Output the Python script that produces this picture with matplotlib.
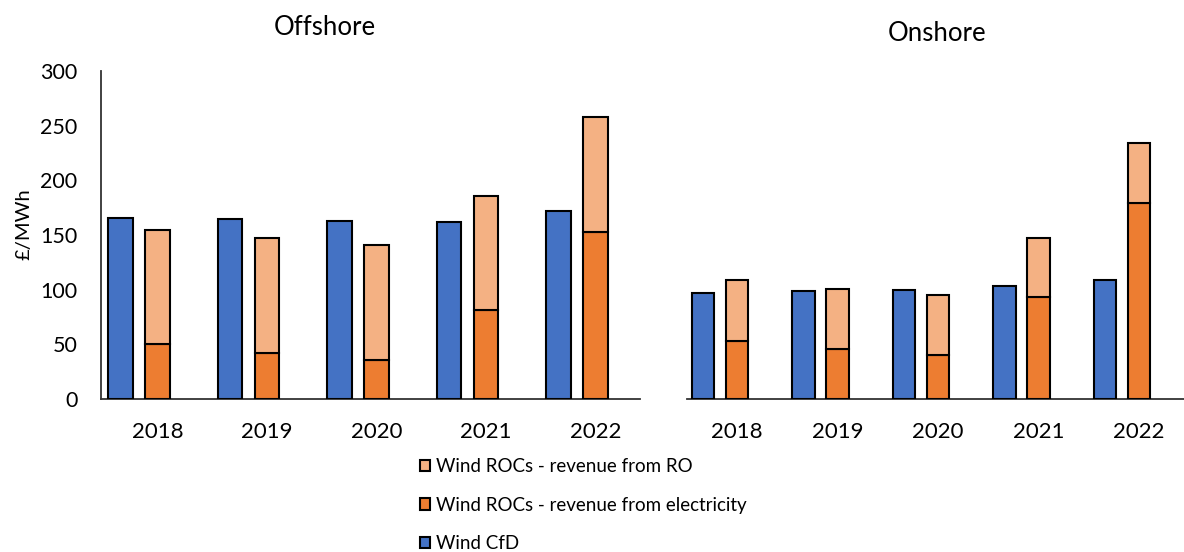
import matplotlib
matplotlib.use('Agg')
import matplotlib.pyplot as plt
import numpy as np

plt.rcParams['font.family'] = ['Lato', 'DejaVu Sans']

years = ['2018', '2019', '2020', '2021', '2022']
off_cfd = [166, 165, 163, 161.5, 172]
off_roc_elec = [50, 42, 36, 81, 153]
off_roc_ro = [105, 105, 105, 104.5, 105]
on_cfd = [97, 99, 100, 103, 108.5]
on_roc_elec = [53.5, 46, 40, 93, 179]
on_roc_ro = [55.5, 54.5, 55, 54.5, 55.5]

C_CFD = '#4472C4'; C_ELEC = '#ED7D31'; C_RO = '#F4B183'
W, H = 1184, 552

fig = plt.figure(figsize=(W/100, H/100), dpi=100)
ax1 = fig.add_axes([101/W, 1-399/H, 539/W, 328/H])
ax2 = fig.add_axes([687/W, 1-399/H, 497/W, 328/H])

def draw(ax, cfd, elec, ro, xlim):
    x = np.arange(len(years)); bw = 0.22; off = 0.338
    kw = dict(width=bw, edgecolor='black', linewidth=1.5, zorder=3)
    h_cfd = ax.bar(x - off, cfd, color=C_CFD, **kw)
    h_el = ax.bar(x, elec, color=C_ELEC, **kw)
    h_ro = ax.bar(x, ro, bottom=elec, color=C_RO, **kw)
    ax.set_xlim(*xlim); ax.set_ylim(0, 300)
    ax.set_xticks(x); ax.set_xticklabels(years)
    ax.tick_params(axis='x', length=0, pad=16.5, labelsize=16)
    for s in ['top', 'right']: ax.spines[s].set_visible(False)
    ax.spines['bottom'].set_color('#333333'); ax.spines['bottom'].set_linewidth(1.3)
    return h_cfd, h_el, h_ro

draw(ax1, off_cfd, off_roc_elec, off_roc_ro, (-0.516, 4.406))
h_cfd, h_el, h_ro = draw(ax2, on_cfd, on_roc_elec, on_roc_ro, (-0.4975, 4.448))

ax1.set_yticks([0, 50, 100, 150, 200, 250, 300])
ax1.tick_params(axis='y', length=0, pad=17, labelsize=15.5)
ax1.spines['left'].set_color('#333333'); ax1.spines['left'].set_linewidth(1.3)
ax2.spines['left'].set_visible(False)
ax2.set_yticks([])

fig.text(24/W, 1-224/H, '£/MWh', rotation=90, ha='center', va='center', fontsize=14.5)
fig.text(325/W, 1-35/H, 'Offshore', ha='center', va='baseline', fontsize=18.5)
fig.text(937.5/W, 1-41.5/H, 'Onshore', ha='center', va='baseline', fontsize=18.5)

fig.legend([h_ro, h_el, h_cfd],
           ['Wind ROCs - revenue from RO', 'Wind ROCs - revenue from electricity', 'Wind CfD'],
           loc='upper left', bbox_to_anchor=(420/W, 1-458/H), frameon=False, fontsize=13.5,
           borderaxespad=0, borderpad=0, handlelength=0.55, handleheight=0.55,
           handletextpad=0.3, labelspacing=1.15)

fig.savefig('out.png', dpi=100, facecolor='white')
